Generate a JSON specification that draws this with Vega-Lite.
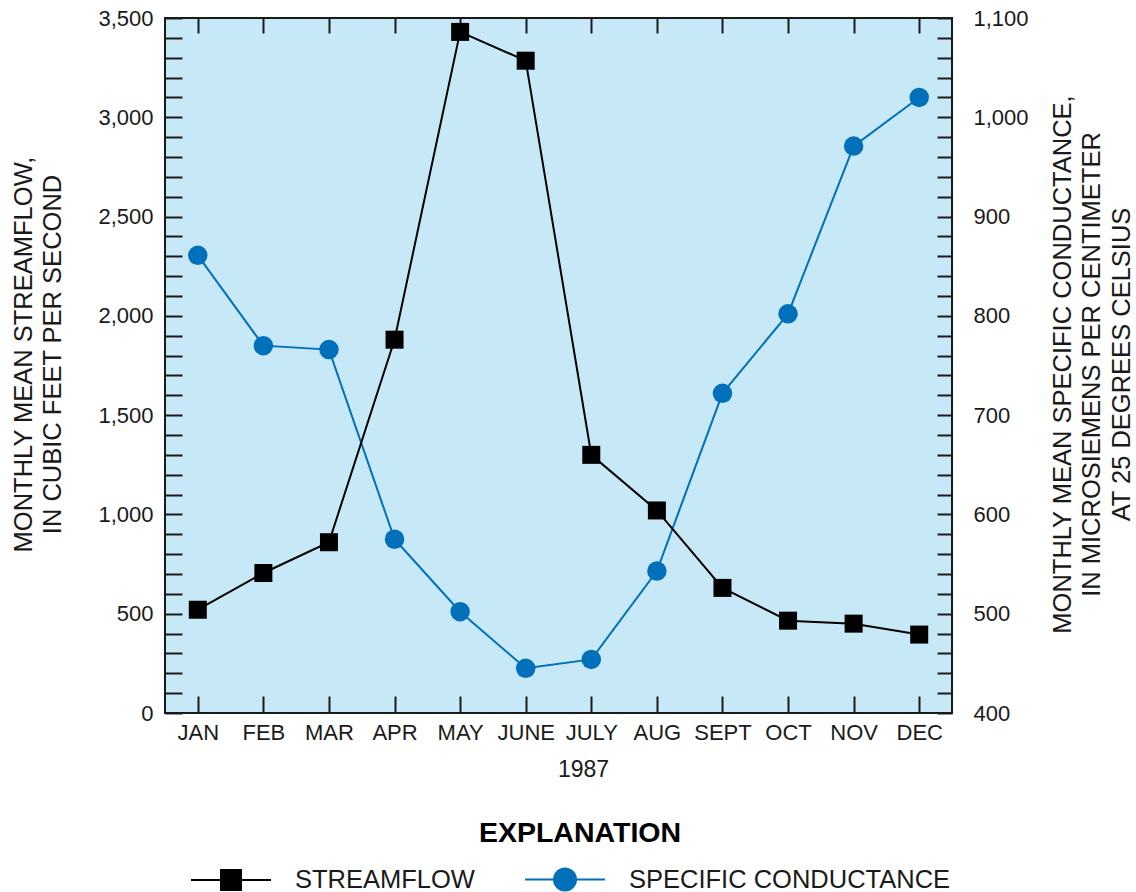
{
  "$schema": "https://vega.github.io/schema/vega-lite/v6.json",
  "width": 787,
  "height": 695,
  "autosize": "none",
  "padding": {"left": 165, "top": 18, "right": 184, "bottom": 179},
  "background": "white",
  "config": {
    "font": "Liberation Sans",
    "view": {"fill": "#C6E8F7", "stroke": "#1a1a1a", "strokeWidth": 2},
    "axis": {
      "domain": false,
      "grid": false,
      "tickColor": "#1a1a1a",
      "tickWidth": 2,
      "labelColor": "#1a1a1a",
      "labelFontSize": 22,
      "labelFont": "Liberation Sans",
      "titleFont": "Liberation Sans",
      "titleColor": "#1a1a1a",
      "titleFontWeight": "normal"
    }
  },
  "data": {
    "values": [
      {"month": "JAN", "streamflow": 520, "conductance": 861},
      {"month": "FEB", "streamflow": 705, "conductance": 770},
      {"month": "MAR", "streamflow": 860, "conductance": 766},
      {"month": "APR", "streamflow": 1880, "conductance": 575},
      {"month": "MAY", "streamflow": 3430, "conductance": 502},
      {"month": "JUNE", "streamflow": 3285, "conductance": 445},
      {"month": "JULY", "streamflow": 1300, "conductance": 454},
      {"month": "AUG", "streamflow": 1020, "conductance": 543},
      {"month": "SEPT", "streamflow": 630, "conductance": 722},
      {"month": "OCT", "streamflow": 465, "conductance": 802},
      {"month": "NOV", "streamflow": 450, "conductance": 971},
      {"month": "DEC", "streamflow": 395, "conductance": 1020}
    ]
  },
  "layer": [
    {
      "mark": {"type": "line", "color": "#0070BA", "strokeWidth": 2},
      "encoding": {
        "x": {
          "field": "month", "type": "ordinal", "sort": null,
          "axis": {"orient": "top", "labels": false, "tickSize": -15, "title": null}
        },
        "y": {
          "field": "conductance", "type": "quantitative",
          "scale": {"domain": [400, 1100], "nice": false, "zero": false},
          "axis": {
            "orient": "right",
            "values": [400,420,440,460,480,500,520,540,560,580,600,620,640,660,680,700,720,740,760,780,800,820,840,860,880,900,920,940,960,980,1000,1020,1040,1060,1080,1100],
            "format": ",d",
            "labelExpr": "datum.value % 100 === 0 ? datum.label : ''",
            "labelOverlap": false,
            "labelFlush": false,
            "tickSize": -15,
            "labelPadding": 36,
            "title": ["MONTHLY MEAN SPECIFIC CONDUCTANCE,", "IN MICROSIEMENS PER CENTIMETER", "AT 25 DEGREES CELSIUS"],
            "titleFontSize": 25.5,
            "titleAngle": 270,
            "titleAlign": "center",
            "titleBaseline": "middle",
            "titleLineHeight": 29.5,
            "titleLimit": 2000,
            "titleX": 110,
            "titleY": 346,
            "encode": {"ticks": {"update": {"x2": {"signal": "datum.value % 100 === 0 ? -15 : -9"}}}}
          }
        }
      }
    },
    {
      "mark": {"type": "circle", "size": 380, "opacity": 1},
      "encoding": {
        "x": {"field": "month", "type": "ordinal", "sort": null, "axis": null},
        "y": {"field": "conductance", "type": "quantitative", "scale": {"domain": [400, 1100], "nice": false, "zero": false}, "axis": null},
        "color": {
          "datum": "SPECIFIC CONDUCTANCE",
          "scale": {"domain": ["STREAMFLOW", "SPECIFIC CONDUCTANCE"], "range": ["#000000", "#0070BA"]},
          "legend": {
            "orient": "none",
            "legendX": 45,
            "legendY": 801,
            "direction": "horizontal",
            "padding": 0,
            "title": "EXPLANATION",
            "titleFontSize": 28.5,
            "titleFontWeight": "bold",
            "titleColor": "#000000",
            "titleFont": "Liberation Sans",
            "titleAnchor": "middle",
            "titleOrient": "top",
            "titlePadding": 11,
            "titleLimit": 1000,
            "labelLimit": 1000,
            "labelFontSize": 25.5,
            "labelColor": "#1a1a1a",
            "labelFont": "Liberation Sans",
            "labelOffset": 43,
            "columnPadding": 46,
            "symbolSize": 1600,
            "symbolStrokeWidth": 2,
            "symbolOpacity": 1,
            "encode": {
              "symbols": {
                "update": {
                  "shape": {"signal": "datum.value === 'STREAMFLOW' ? 'M-2,0H2M-0.5,-0.5H0.5V0.5H-0.5Z' : 'M-2,0H2M-0.55,0A0.55,0.55,0,1,0,0.55,0A0.55,0.55,0,1,0,-0.55,0Z'"},
                  "fill": {"signal": "datum.value === 'STREAMFLOW' ? '#000000' : '#0070BA'"},
                  "stroke": {"signal": "datum.value === 'STREAMFLOW' ? '#000000' : '#0070BA'"},
                  "strokeWidth": {"value": 2},
                  "opacity": {"value": 1}
                }
              }
            }
          }
        }
      }
    },
    {
      "mark": {"type": "line", "color": "#000000", "strokeWidth": 2},
      "encoding": {
        "x": {
          "field": "month", "type": "ordinal", "sort": null,
          "axis": {
            "orient": "bottom",
            "labelAngle": 0,
            "tickSize": -17,
            "labelPadding": 26,
            "title": "1987",
            "titleFontSize": 23,
            "titleX": 418,
            "titleY": 56,
            "titleAlign": "center",
            "titleBaseline": "middle"
          }
        },
        "y": {
          "field": "streamflow", "type": "quantitative",
          "scale": {"domain": [0, 3500], "nice": false},
          "axis": {
            "orient": "left",
            "values": [0,100,200,300,400,500,600,700,800,900,1000,1100,1200,1300,1400,1500,1600,1700,1800,1900,2000,2100,2200,2300,2400,2500,2600,2700,2800,2900,3000,3100,3200,3300,3400,3500],
            "format": ",d",
            "labelExpr": "datum.value % 500 === 0 ? datum.label : ''",
            "labelOverlap": false,
            "labelFlush": false,
            "tickSize": -17,
            "labelPadding": 29,
            "title": ["MONTHLY MEAN STREAMFLOW,", "IN CUBIC FEET PER SECOND"],
            "titleFontSize": 25.5,
            "titleAngle": 270,
            "titleAlign": "center",
            "titleBaseline": "middle",
            "titleLineHeight": 29.5,
            "titleLimit": 2000,
            "titleX": -142,
            "titleY": 336,
            "encode": {"ticks": {"update": {"x2": {"signal": "datum.value % 500 === 0 ? 17 : 11"}}}}
          }
        }
      }
    },
    {
      "mark": {"type": "square", "size": 324, "opacity": 1},
      "encoding": {
        "x": {"field": "month", "type": "ordinal", "sort": null, "axis": null},
        "y": {"field": "streamflow", "type": "quantitative", "scale": {"domain": [0, 3500], "nice": false}, "axis": null},
        "color": {"datum": "STREAMFLOW"}
      }
    }
  ],
  "resolve": {"scale": {"y": "independent"}, "axis": {"x": "independent"}}
}
